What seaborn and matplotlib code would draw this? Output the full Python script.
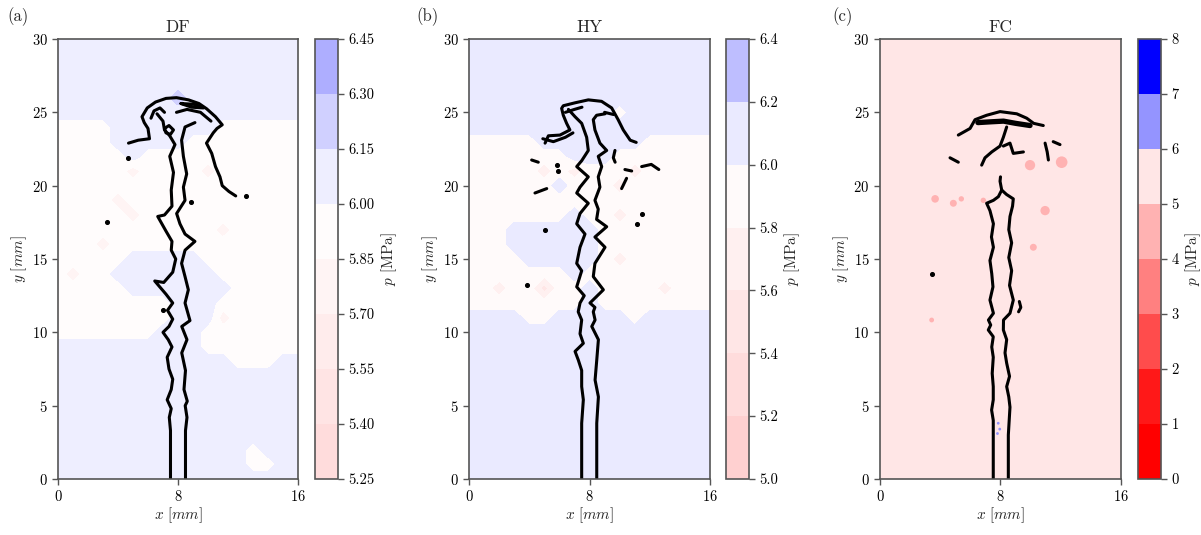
import matplotlib
matplotlib.use("Agg")
import matplotlib.pyplot as plt
import numpy as np
import seaborn as sns
from matplotlib.colors import TwoSlopeNorm

# ---------------- data (mm, MPa) ----------------
DF_LEVELS = [5.25, 5.40, 5.55, 5.70, 5.85, 6.00, 6.15, 6.30, 6.45]
HY_LEVELS = [5.0, 5.2, 5.4, 5.6, 5.8, 6.0, 6.2, 6.4]
FC_LEVELS = [0, 1, 2, 3, 4, 5, 6, 7, 8]

# pressure field on a 1 mm grid, rows from y=30 (top) to y=0 (bottom)
DF_CODES = {"b": 6.075, "B": 6.225, "w": 5.925, "p": 5.775}
DF_FIELD = [
    "bbbbbbbbbbbbbbbbb",
    "bbbbbbbbbbbbbbbbb",
    "bbbbbbbbbbbbbbbbb",
    "bbbbbbbbbbbbbbbbb",
    "bbbbbbbbBbbbbbbbb",
    "bbbbbbbbbbbbbbbbb",
    "wwwwbbbbbbbwwwwww",
    "wwwwbbbbbwwwwwwww",
    "wwwwwbwwwwwwwwwww",
    "wwwwwpwwwwpwwwwww",
    "wwwwwwwwwwwwwwwww",
    "wwwwpwwwwwwwwwwww",
    "wwwwwpwwwwwwwwwww",
    "wwwwwwwwwwwpwwwww",
    "wwwpwwwwwwwwwwwww",
    "wwwwwbbbbbwwwwwww",
    "wpwwbbbbbbbwwwwww",
    "wwwwwbbbbbbbwwwww",
    "wwwwwwwwbbbwwwwww",
    "wwwwwwwwbbbpwwwww",
    "wwwwwwwbbbwwwwwww",
    "bbbbbbbbbbwwwwwww",
    "bbbbbbbbbbbbwwwbb",
    "bbbbbbbbbbbbbbbbb",
    "bbbbbbbbbbbbbbbbb",
    "bbbbbbbbbbbbbbbbb",
    "bbbbbbbbbbbbbbbbb",
    "bbbbbbbbbbbbbbbbb",
    "bbbbbbbbbbbbbwbbb",
    "bbbbbbbbbbbbbwwbb",
    "bbbbbbbbbbbbbbbbb",
]

HY_CODES = {"b": 6.1, "w": 5.9, "p": 5.7, "q": 5.5}
HY_FIELD = [
    "bbbbbbbbbbbbbbbbb",
    "bbbbbbbbbbbbbbbbb",
    "bbbbbbbbbbbbbbbbb",
    "bbbbbbbbbbbbbbbbb",
    "bbbbbbbbbbbbbbbbb",
    "bbbbbbbbbbwbbbbbb",
    "bbbbbbbbbbbbbbbbb",
    "wwwwwbbbbbbbwwwww",
    "wwwwwwwbbbwwwwwww",
    "wwwwwpwpwwwpwwwww",
    "wwwwwwbwwwpwwwwww",
    "wwwwwwwwwwwwwwwww",
    "wwwwwwwbwwpwwwwww",
    "wwwbbbbbbwwwwwwww",
    "wwwbbbbbbwwwwwwww",
    "wwwwbbbbbwpwwwwww",
    "wwwwwwwbwwwwwwwww",
    "wwpwwqwwbwwwwpwww",
    "wwwwwwwwbwwwwwwww",
    "bbbbwwbbbbbwbbbbb",
    "bbbbbbbbbbbbbbbbb",
    "bbbbbbbbbbbbbbbbb",
    "bbbbbbbbbbbbbbbbb",
    "bbbbbbbbbbbbbbbbb",
    "bbbbbbbbbbbbbbbbb",
    "bbbbbbbbbbbbbbbbb",
    "bbbbbbbbbbbbbbbbb",
    "bbbbbbbbbbbbbbbbb",
    "bbbbbbbbbbbbbbbbb",
    "bbbbbbbbbbbbbbbbb",
    "bbbbbbbbbbbbbbbbb",
]

FC_CODES = {"w": 5.5}
FC_FIELD = ["ww", "ww"]

# jet interface traces (x, y) in mm
DF_LEFT = [(7.50, 0.0), (7.50, 3.3), (7.42, 4.2), (7.55, 4.8), (7.28, 5.4), (7.55, 6.1),
           (7.65, 6.8), (7.40, 7.5), (7.28, 8.3), (7.60, 9.0), (7.35, 9.5), (7.00, 10.0),
           (7.40, 10.4), (7.65, 10.9), (7.30, 11.5), (7.65, 12.0), (7.20, 12.6), (6.45, 13.5),
           (7.05, 13.4), (7.65, 14.1), (7.85, 15.0), (7.55, 15.6), (7.60, 16.2), (7.20, 16.9),
           (6.65, 17.9), (7.10, 18.0), (7.60, 18.6), (7.55, 19.7), (7.70, 20.9), (7.45, 22.0),
           (7.80, 22.8), (7.45, 23.4), (7.10, 23.8), (7.00, 24.4), (6.60, 24.9)]
DF_RIGHT = [(8.50, 0.0), (8.50, 3.3), (8.60, 4.2), (8.48, 5.0), (8.62, 5.3), (8.40, 6.1),
            (8.50, 7.4), (8.25, 8.6), (8.60, 9.5), (8.25, 10.4), (8.80, 10.8), (8.47, 12.0),
            (8.69, 12.9), (8.47, 13.8), (8.24, 14.7), (8.47, 15.6), (9.13, 16.2), (8.47, 16.7),
            (8.13, 17.4), (7.91, 18.1), (8.47, 19.0), (8.36, 19.9), (8.58, 20.8), (8.36, 22.0),
            (8.24, 23.1), (8.47, 24.0), (9.13, 24.3)]
DF_CAP = [(4.70, 22.9), (5.35, 23.1), (6.10, 23.2), (6.00, 23.9), (5.75, 24.3), (5.60, 24.7),
          (5.95, 25.3), (6.50, 25.7), (7.20, 25.95), (7.90, 26.0), (8.70, 25.85), (9.40, 25.6),
          (9.90, 25.25), (10.50, 24.7), (10.95, 24.15), (10.60, 23.9), (10.35, 23.6), (9.90, 22.9),
          (10.25, 22.2), (10.50, 21.3), (10.80, 20.6), (10.95, 20.0), (11.40, 19.6), (11.85, 19.3)]
DF_INNER = [(7.90, 25.0), (8.60, 25.2), (9.50, 25.0), (10.20, 24.4)]
DF_LOOP = [(8.20, 25.6), (9.10, 25.55), (9.70, 25.3), (8.90, 25.35), (8.20, 25.6)]
DF_RING = [(7.10, 23.9), (7.40, 24.1), (7.70, 23.8), (7.50, 23.5), (7.20, 23.6), (7.10, 23.9)]
DF_HOOK = [(6.20, 24.6), (6.40, 25.1), (6.80, 25.3), (7.10, 25.0)]
DF_DOTS = [(4.69, 21.86), (3.24, 17.5), (8.90, 18.9), (7.02, 11.5), (12.55, 19.3)]

HY_LEFT = [(7.48, 0.0), (7.48, 3.8), (7.59, 5.4), (7.48, 6.3), (7.48, 7.4), (7.26, 8.1),
           (7.04, 8.7), (7.59, 9.25), (7.37, 9.9), (7.48, 10.84), (7.25, 11.4), (7.37, 12.0),
           (7.65, 12.5), (7.15, 13.1), (7.48, 14.2), (7.15, 14.7), (7.37, 15.8), (7.70, 16.7),
           (7.15, 17.4), (7.37, 18.1), (7.92, 18.8), (7.15, 19.5), (7.37, 19.9), (7.92, 20.6),
           (7.15, 21.3), (7.48, 21.7), (7.92, 22.4), (7.81, 23.3), (7.48, 24.25), (7.04, 24.7),
           (6.60, 25.2)]
HY_RIGHT = [(8.48, 0.0), (8.48, 3.8), (8.59, 5.6), (8.37, 6.75), (8.48, 8.1), (8.59, 9.5),
            (8.15, 10.4), (8.37, 10.84), (8.25, 11.4), (8.36, 11.7), (8.03, 12.0), (8.92, 12.9),
            (8.25, 13.8), (8.36, 14.7), (9.03, 15.8), (8.36, 16.5), (9.14, 17.2), (8.47, 17.7),
            (8.58, 18.4), (8.36, 19.0), (8.69, 19.9), (8.58, 20.6), (8.81, 21.3), (8.58, 22.0),
            (9.14, 22.4), (8.69, 22.9), (8.36, 23.8), (8.25, 24.5), (8.47, 24.8), (9.03, 24.9)]
HY_CAP = [(5.05, 22.9), (5.27, 23.4), (6.04, 23.45), (6.70, 23.8), (6.48, 24.25), (6.26, 24.8),
          (6.15, 25.27), (6.26, 25.45), (7.04, 25.65), (7.92, 25.85), (8.80, 25.75), (9.47, 25.3),
          (9.90, 24.5), (10.24, 23.8), (10.70, 23.1), (11.10, 22.95)]
HY_INNER = [(6.40, 25.0), (7.00, 25.2), (7.50, 25.35)]
HY_LOBE = [(4.90, 23.2), (5.60, 23.0), (6.40, 23.3), (6.90, 23.6)]
HY_BITS = [
    [(4.16, 21.75), (4.60, 21.6)],
    [(4.38, 19.5), (5.16, 19.8)],
    [(9.69, 22.4), (9.58, 21.9), (9.70, 21.6)],
    [(10.35, 21.1), (10.80, 21.0)],
    [(11.46, 21.3), (12.10, 21.45), (12.60, 21.1)],
    [(10.46, 20.5), (10.13, 19.8)],
    [(9.00, 25.0), (9.60, 24.85)],
]
HY_DOTS = [(5.05, 17.0), (3.83, 13.2), (11.46, 18.1), (11.13, 17.4), (5.82, 21.4), (5.93, 21.0)]

FC_LEFT = [(7.52, 0.0), (7.52, 4.0), (7.41, 4.7), (7.52, 5.4), (7.52, 6.3), (7.45, 7.2),
           (7.52, 8.3), (7.42, 9.0), (7.52, 9.7), (7.19, 10.16), (7.35, 10.5), (7.20, 10.84),
           (7.53, 11.3), (7.30, 12.2), (7.50, 13.1), (7.42, 14.0), (7.30, 14.9), (7.53, 15.8),
           (7.40, 16.5), (7.53, 17.4), (7.30, 18.3), (7.08, 18.8), (7.53, 19.0), (7.86, 19.25),
           (8.08, 19.7), (7.97, 20.3), (8.00, 20.6)]
FC_RIGHT = [(8.52, 0.0), (8.52, 3.0), (8.63, 4.9), (8.55, 5.6), (8.41, 6.3), (8.60, 7.0),
            (8.41, 7.9), (8.30, 8.6), (8.41, 9.5), (8.19, 10.16), (8.20, 10.84), (8.63, 11.3),
            (8.85, 12.2), (8.60, 13.2), (8.74, 14.2), (8.55, 15.1), (8.74, 16.1), (8.55, 17.0),
            (8.63, 17.9), (8.80, 18.6), (8.85, 19.1), (8.40, 19.4), (8.08, 19.7)]
FC_CAP = [(5.20, 23.45), (5.98, 23.9), (6.31, 24.5), (7.08, 24.8), (7.97, 25.05), (9.08, 24.9),
          (9.74, 24.6), (10.20, 24.25), (10.84, 24.1)]
FC_BAND = [(6.50, 24.3), (7.30, 24.35), (8.20, 24.4), (9.00, 24.25), (9.96, 24.1)]
FC_STEM = [(8.41, 24.0), (8.19, 23.3), (7.97, 22.7), (7.42, 22.3), (6.97, 21.9), (6.75, 21.4)]
FC_BRANCH = [(8.19, 22.7), (8.63, 22.9), (8.85, 22.2), (9.52, 22.3)]
FC_BITS = [
    [(4.65, 21.9), (5.20, 21.6)],
    [(10.96, 22.9), (11.10, 22.3), (11.18, 21.75)],
    [(11.50, 23.0), (11.95, 22.8)],
    [(9.25, 12.1), (9.35, 11.7), (9.20, 11.4)],
]
FC_DOTS = [(3.43, 14.0)]
# low / high pressure droplets in FC: x, y, p, marker size
FC_SPOT_X = [9.96, 12.06, 3.66, 4.87, 5.40, 10.96, 10.18, 3.43, 6.86, 7.85, 7.95, 7.80]
FC_SPOT_Y = [21.4, 21.6, 19.1, 18.8, 19.1, 18.3, 15.8, 10.84, 19.0, 3.8, 3.4, 3.1]
FC_SPOT_P = [4.5, 4.5, 4.5, 4.5, 4.5, 4.5, 4.5, 4.5, 4.5, 6.5, 6.5, 6.5]
FC_SPOT_S = [55, 70, 30, 25, 15, 45, 25, 12, 15, 4, 4, 4]

# ---------------- style ----------------
sns.set_style("ticks")
plt.rcParams.update({
    "font.family": "serif",
    "font.serif": ["cmr10", "DejaVu Serif"],
    "mathtext.fontset": "cm",
    "axes.formatter.use_mathtext": True,
    "axes.edgecolor": "#555555",
    "axes.linewidth": 1.2,
    "xtick.color": "#555555",
    "ytick.color": "#555555",
    "xtick.labelcolor": "black",
    "ytick.labelcolor": "black",
    "xtick.direction": "out",
    "ytick.direction": "out",
})

CMAP = sns.color_palette("bwr_r", as_cmap=True)
NORM = TwoSlopeNorm(vmin=1.0, vcenter=6.0, vmax=7.2)


def draw_lines(ax, lines, lw=2.2):
    for line in lines:
        xs, ys = zip(*line)
        sns.lineplot(x=list(xs), y=list(ys), sort=False, estimator=None,
                     color="black", lw=lw, ax=ax)


def panel(fig, rect, crect, rows, codes, levels, fmt, lines, dots, title, tag, tagx):
    ax = fig.add_axes(rect)
    cax = fig.add_axes(crect)
    z = np.array([[codes[c] for c in row] for row in rows])
    x = np.linspace(0, 16, z.shape[1])
    y = np.linspace(30, 0, z.shape[0])
    cs = ax.contourf(x, y, z, levels=levels, cmap=CMAP, norm=NORM)
    draw_lines(ax, lines)
    if dots:
        dx, dy = zip(*dots)
        ax.scatter(dx, dy, s=7, color="black", zorder=5)
    ax.set_xlim(0, 16)
    ax.set_ylim(0, 30)
    ax.set_xticks([0, 8, 16])
    ax.set_yticks([0, 5, 10, 15, 20, 25, 30])
    ax.tick_params(labelsize=10.5, length=4, width=1)
    ax.set_xlabel(r"$x\ [mm]$", fontsize=11, labelpad=1)
    ax.set_ylabel(r"$y\ [mm]$", fontsize=11, labelpad=2)
    ax.set_title(title, fontsize=12.5, pad=5)
    fig.text(tagx, 0.968, tag, fontsize=12, va="center")
    cb = fig.colorbar(cs, cax=cax, ticks=levels, format=fmt)
    cb.outline.set_edgecolor("#555555")
    cb.outline.set_linewidth(1.2)
    cb.ax.tick_params(labelsize=10.5, length=4, width=1)
    cb.set_label(r"$p$ [MPa]", fontsize=11, labelpad=3)
    return ax


fig = plt.figure(figsize=(12.01, 5.35), dpi=100)
bottom, height = 0.1047, 0.8224

panel(fig, [0.0483, bottom, 0.1998, height], [0.2623, bottom, 0.0192, height],
      DF_FIELD, DF_CODES, DF_LEVELS, "%.2f",
      [DF_LEFT, DF_RIGHT, DF_CAP, DF_INNER, DF_LOOP, DF_RING, DF_HOOK], DF_DOTS,
      "DF", "(a)", 0.006)

panel(fig, [0.3905, bottom, 0.2007, height], [0.6045, bottom, 0.0192, height],
      HY_FIELD, HY_CODES, HY_LEVELS, "%.1f",
      [HY_LEFT, HY_RIGHT, HY_CAP, HY_INNER, HY_LOBE] + HY_BITS, HY_DOTS,
      "HY", "(b)", 0.347)

ax_c = panel(fig, [0.7327, bottom, 0.2007, height], [0.9475, bottom, 0.0192, height],
             FC_FIELD, FC_CODES, FC_LEVELS, "%d",
             [FC_LEFT, FC_RIGHT, FC_CAP, FC_STEM, FC_BRANCH] + FC_BITS, FC_DOTS,
             "FC", "(c)", 0.693)
draw_lines(ax_c, [FC_BAND], lw=3.8)
ax_c.scatter(FC_SPOT_X, FC_SPOT_Y, c=FC_SPOT_P, s=FC_SPOT_S, cmap=CMAP, norm=NORM,
             linewidths=0, zorder=1.5)

fig.savefig("out.png", dpi=100)
